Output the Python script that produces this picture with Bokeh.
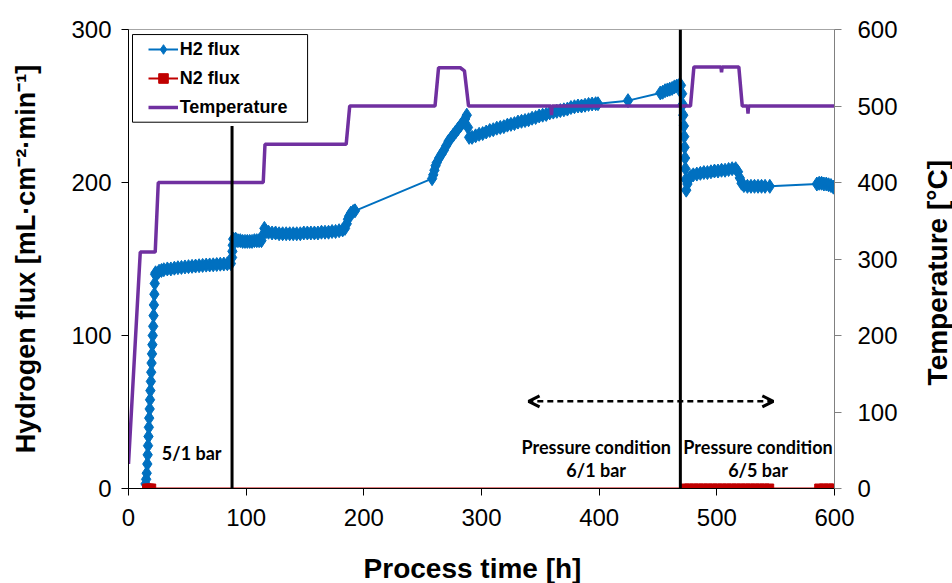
import math
from bokeh.plotting import figure
from bokeh.layouts import row, column
from bokeh.models import (Range1d, LinearAxis, Legend, LegendItem, Arrow, OpenHead,
                          BoxAnnotation, FixedTicker)
from bokeh.embed import file_html
from bokeh.resources import INLINE
from bokeh.core.properties import value

# ---------------- data ----------------
time_ticks = [0, 100, 200, 300, 400, 500, 600]
flux_ticks = [0, 100, 200, 300]
temp_ticks = [0, 100, 200, 300, 400, 500, 600]

h2_time = [14.5, 15, 15.5, 16, 16.3, 16.6, 17, 17.3, 17.6, 18, 18.3, 18.6, 19, 19.3, 19.6, 20, 20.3, 20.6,
           21, 21.3, 21.6, 22, 22.3, 22.6,
           23, 24, 26, 28, 30, 33, 36, 39, 42, 45, 48, 51, 54, 57, 60, 63, 66, 69, 72, 75, 78, 81, 84, 87,
           88, 88.3, 88.6, 89,
           91, 93, 95, 97, 99, 101, 103, 105, 107, 109, 111, 113,
           114.5, 115.5, 117, 119, 122, 125, 128, 131, 134, 137, 140, 143, 146, 149, 152, 155, 158, 161,
           164, 167, 170, 173, 176, 179, 182, 184, 185.5, 186.5, 187.5, 189, 191, 192.5,
           258,
           259, 260, 261, 262, 264, 266, 268, 270, 272, 274, 276, 278, 280, 282, 284, 286, 287.5, 288.5,
           289.5, 292, 295, 298, 301, 304, 307, 310, 313, 316, 319, 322, 325, 328, 331, 334, 337, 340,
           343, 346, 349, 352, 355, 358, 361, 364, 367, 370, 373, 376, 379, 382, 385, 388, 391, 394, 397, 399,
           424.5,
           452, 454, 456, 458, 460, 462, 464, 466, 468, 469.5,
           470.5, 471, 471.5, 472, 472.3, 472.6, 473, 473.3, 473.6, 474,
           475, 476, 478, 480, 483, 486, 489, 492, 495, 498, 501, 504, 507, 510, 513, 516, 518, 519.5,
           521, 523, 526, 529, 532, 535, 538, 541, 545,
           585, 587, 589, 591, 593, 595, 597, 599, 600]
h2_flux = [3, 6, 10, 16, 22, 28, 34, 40, 46, 52, 58, 64, 70, 76, 82, 88, 94, 100,
           106, 113, 120, 127, 134, 140,
           141, 140, 142, 142.5, 143, 143.5, 143.5, 144, 144.3, 144.5, 144.8, 145, 145.2, 145.4, 145.6,
           145.8, 146, 146.1, 146.2, 146.4, 146.6, 146.7, 146.9, 147,
           151, 155, 159, 163,
           163, 162, 162, 161.5, 161.5, 161.5, 161.5, 161.5, 162, 162, 162, 162,
           166, 170, 168, 167.5, 167, 167, 166.5, 166.5, 166.5, 166.5, 166.5, 166.5, 166.5, 167, 167, 167,
           167, 167, 167.5, 167.5, 167.5, 168, 168, 168.5, 169, 170, 173, 176, 178, 180, 181, 181.5,
           202.5,
           205, 208, 211, 213, 216, 218.5, 221, 224, 227, 229, 231, 233, 235, 237, 239, 241.5, 244, 236,
           229.5, 229.5, 230.5, 231.5, 232, 233, 234, 234.5, 235.5, 236, 236.5, 237.5, 238, 238.5, 239.5,
           240, 240.5, 241, 242, 242.5, 243.5, 244, 244.5, 245.5, 246, 246.5, 247, 247.5, 248, 249, 249.5,
           250, 250, 250.5, 251, 251.3, 251.5, 251.5,
           253.5,
           258.5, 259, 260, 260.5, 261, 261.5, 262.5, 263, 263.5, 263.5,
           258, 251, 244, 237, 230, 223, 216, 209, 202, 195,
           199, 202, 204, 205, 205.5, 206, 206.5, 206.5, 207, 207.5, 207.5, 208, 208, 208.5, 209, 209, 207,
           203, 199.5, 198, 197.5, 197.5, 197.5, 197.5, 197.5, 197.5, 197.5,
           199, 199.5, 199.5, 199, 199, 198.5, 198, 197, 196.5]

n2_time = [15.8, 17.5, 19.3, 472.5, 476.5, 480.5, 484.5, 488.5, 492.5, 496.5, 500.5, 504.5, 508.5,
           512.5, 516.5, 520.5, 524.5, 528.5, 532.5, 536.5, 540.5, 544.5, 587, 591, 595, 599]
n2_flux = [0, 0, 0, 0, 0, 0, 0, 0, 0, 0, 0, 0, 0, 0, 0, 0, 0, 0, 0, 0, 0, 0, 0, 0, 0, 0]

temp_time = [0, 10, 22.7, 25.3, 114.5, 116, 185, 188, 260.5, 263.5, 282, 285.5, 289, 359, 359.5, 360,
             477.6, 480.5, 503.5, 504, 504.5, 518.7, 521.6, 526, 526.5, 527, 600]
temp_c = [32, 309, 309, 400, 400, 450, 450, 500, 500, 550, 550, 546, 500, 500, 488, 500,
          500, 551, 551, 544, 551, 551, 500, 500, 490, 500, 500]

# pressure condition change events (h) and top of marker line (flux units)
event_time = [88, 469]
event_top = [237, 300]

annot_text = ["5/1 bar", "Pressure condition", "6/1 bar", "Pressure condition", "6/5 bar"]
annot_x = [53.7, 397.5, 397.5, 535, 535]
annot_y = [23, 26.8, 11.8, 26.8, 11.8]

arrow_time = [340, 548]
arrow_flux = 57

x_title = "Process time [h]"
y_title = "Hydrogen flux [mL·cm⁻²·min⁻¹]"
y2_title = "Temperature [°C]"

BLUE = "#0070C0"
RED = "#C00000"
PURPLE = "#7030A0"
AX_FONT = "Liberation Sans"

MAIN_W, MAIN_H = 912, 553
SIDE_W = 952 - MAIN_W
BOTTOM_H = 583 - MAIN_H

# ---------------- main figure ----------------
p = figure(width=MAIN_W, height=MAIN_H, output_backend="svg", toolbar_location=None,
           x_range=Range1d(0, 600), y_range=Range1d(0, 300),
           min_border_left=128, min_border_right=MAIN_W - 834, min_border_top=29,
           min_border_bottom=MAIN_H - 488,
           background_fill_color="white", border_fill_color="white")
p.extra_y_ranges = {"temp": Range1d(0, 600)}
p.xgrid.visible = False
p.ygrid.visible = False
p.outline_line_color = "#a6a6a6"
p.outline_line_width = 1

xa = p.xaxis[0]
ya = p.yaxis[0]
xa.ticker = FixedTicker(ticks=time_ticks)
ya.ticker = FixedTicker(ticks=flux_ticks)
ya.axis_label = y_title

ra = LinearAxis(y_range_name="temp", ticker=FixedTicker(ticks=temp_ticks))

for ax in (xa, ya, ra):
    ax.axis_line_color = "black"
    ax.axis_line_width = 1
    ax.major_tick_line_color = "black"
    ax.minor_tick_line_color = None
    ax.major_tick_out = 7
    ax.major_tick_in = 0
    ax.major_label_text_font = AX_FONT
    ax.major_label_text_font_size = "24px"
    ax.major_label_text_color = "black"
    ax.axis_label_text_font = AX_FONT
    ax.axis_label_text_font_style = "bold"
    ax.axis_label_text_font_size = "27px"
    ax.axis_label_text_color = "black"
xa.major_label_standoff = 13
ya.major_label_standoff = 10
ya.axis_label_standoff = 27
ra.axis_line_color = "#808080"
ra.major_tick_line_color = "#808080"
ra.major_label_standoff = 16
p.add_layout(ra, "right")

# ---------------- series ----------------
h2_line = p.line(h2_time, h2_flux, line_color=BLUE, line_width=2)
h2_pts = p.scatter(h2_time, h2_flux, marker="diamond", size=14, fill_color=BLUE, line_color=BLUE)
n2_line = p.line(n2_time, n2_flux, line_color=RED, line_width=2)
n2_pts = p.scatter(n2_time, n2_flux, marker="square", size=9, fill_color=RED, line_color=RED)
t_line = p.line(temp_time, temp_c, line_color=PURPLE, line_width=3.5, y_range_name="temp")

p.segment(x0=event_time, y0=[0, 0], x1=event_time, y1=event_top, line_color="black", line_width=3)

p.text(x=annot_x, y=annot_y, text=annot_text, text_font=value("Lato"), text_font_style="bold",
       text_font_size="18px", text_align="center", text_baseline="middle", text_color="black")

p.add_layout(Arrow(start=OpenHead(size=11, line_width=3, line_color="black"),
                   end=OpenHead(size=11, line_width=3, line_color="black"),
                   x_start=arrow_time[1], y_start=arrow_flux, x_end=arrow_time[0], y_end=arrow_flux,
                   line_color="black", line_width=2.5, line_dash="6 4"))

# legend frame
p.add_layout(BoxAnnotation(left=3.4, right=152.2, top=296.7, bottom=239.4,
                           fill_color="white", fill_alpha=1, line_color="black", line_width=1,
                           line_alpha=1))
legend = Legend(items=[LegendItem(label="H2 flux", renderers=[h2_line, h2_pts]),
                       LegendItem(label="N2 flux", renderers=[n2_line, n2_pts]),
                       LegendItem(label="Temperature", renderers=[t_line])],
                location=(19.7, 368.7), border_line_alpha=0, background_fill_alpha=0,
                padding=0, margin=0, spacing=5, glyph_width=30, glyph_height=24,
                label_height=24, label_standoff=2, label_text_font=AX_FONT,
                label_text_font_style="bold", label_text_font_size="18px",
                label_text_color="black")
p.add_layout(legend)

# ---------------- right-hand title strip ----------------
p2 = figure(width=SIDE_W, height=MAIN_H, output_backend="svg", toolbar_location=None,
            x_range=Range1d(0, SIDE_W), y_range=Range1d(0, MAIN_H),
            x_axis_location=None, y_axis_location=None, min_border=0,
            background_fill_color="white", border_fill_color="white")
p2.grid.visible = False
p2.outline_line_color = None
p2.text(x=[25], y=[MAIN_H - 293], text=[y2_title], angle=math.pi / 2,
        text_font=value(AX_FONT), text_font_style="bold", text_font_size="28px",
        text_align="center", text_baseline="middle", text_color="black")

# ---------------- bottom title strip ----------------
p3 = figure(width=952, height=BOTTOM_H, output_backend="svg", toolbar_location=None,
            x_range=Range1d(0, 952), y_range=Range1d(0, BOTTOM_H),
            x_axis_location=None, y_axis_location=None, min_border=0,
            background_fill_color="white", border_fill_color="white")
p3.grid.visible = False
p3.outline_line_color = None
p3.text(x=[472], y=[BOTTOM_H - 15], text=[x_title],
        text_font=value(AX_FONT), text_font_style="bold", text_font_size="28px",
        text_align="center", text_baseline="middle", text_color="black")

layout = column(row(p, p2, spacing=0), p3, spacing=0)
open("out.html", "w").write(file_html(layout, INLINE))
